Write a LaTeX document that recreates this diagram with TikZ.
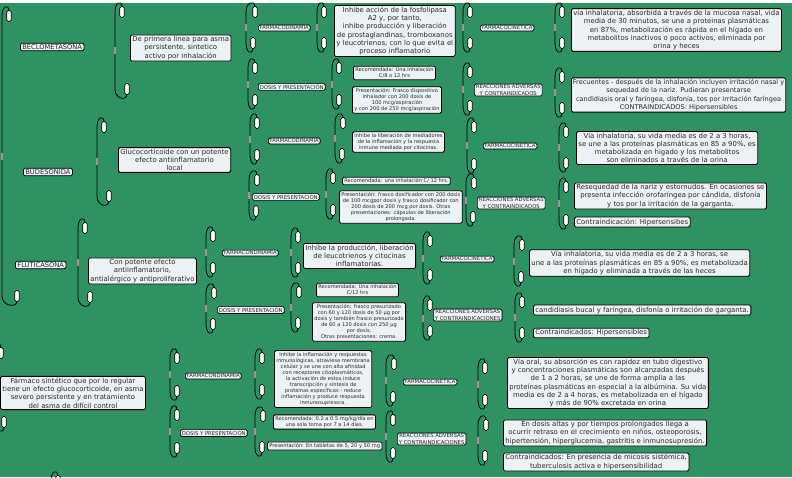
\documentclass[tikz,border=0pt]{standalone}
\usepackage{fontspec}
\setmainfont{DejaVu Sans}
\usetikzlibrary{positioning, calc}
\definecolor{mapgreen}{RGB}{46,146,99}
\definecolor{boxfill}{RGB}{237,242,245}
\definecolor{inkgray}{RGB}{40,40,40}
\definecolor{tickpink}{RGB}{176,140,152}

\begin{document}
\begin{tikzpicture}[
        x=1pt, y=-1pt,
        box/.style={rectangle, draw=black, line width=0.8pt, fill=boxfill, rounded corners=1.5pt, align=center, text=inkgray, inner xsep=2pt, inner ysep=1.5pt, anchor=west},
        drug/.style={box, font=\fontsize{6.7}{7.6}\selectfont, inner ysep=1.2pt},
        info/.style={box, font=\fontsize{6.9}{8.2}\selectfont},
        note/.style={box, font=\fontsize{5.1}{6.1}\selectfont},
        topic/.style={box, font=\fontsize{5.3}{6.2}\selectfont, inner xsep=1.5pt, inner ysep=0.9pt, line width=0.7pt},
        pill/.style={rectangle, draw=black, fill=white, line width=0.6pt, rounded corners=1.8pt, minimum width=4.5pt, minimum height=11pt, inner sep=0pt},
        curl/.style={draw=black, line width=0.8pt},
        midtick/.style={rectangle, fill=tickpink, minimum width=1.3pt, minimum height=7pt, inner sep=0pt}
    ]
        \fill[white] (0,0) rectangle (792,477);
        \fill[mapgreen] (0,3) rectangle (792,477);
        \useasboundingbox (0,0) rectangle (792,477);

        \foreach \n/\xa/\ya/\xb/\yb in {
            rootbr/9/16/17/296, rootbbr/1/353/4/422,
            bdescbr/122/12/127/89, udescbr/104/127/109/196, fdescbr/85/228/90/297,
            bfdbr/255/12/253/43, bdpbr/255/68/255/100, ufdbr/257/123/257/155, udpbr/257/180/256/211,
            ffdbr/213/236/213/268, fdpbr/214/293/213/324, pfdbr/177/358/177/391, pdpbr/177/415/177/448,
            bfdtbr/324/12/324/43, bdptbr/339/68/339/100, ufdtbr/343/123/342/154, udptbr/333/178/333/210,
            ffdtbr/298/237/298/268, fdptbr/299/292/298/323, pfdtbr/262/358/262/390, pdptbr/263/416/262/447,
            bfcbr/470/12/470/43, brabr/470/72/470/106, ufcbr/474/127/474/164, urabr/474/183/473/217,
            ffcbr/430/241/430/275, frabr/430/305/430/331, pfcbr/394/364/393/397, prabr/393/420/393/453,
            bfctbr/562/12/562/43, bratbr/562/77/562/108, ufctbr/566/132/566/163, uratbr/566/187/566/220,
            ffctbr/522/245/521/277, fratbr/522/302/522/333, pfctbr/485/368/485/400, pratbr/486/425/485/456}
        {
            \pgfmathsetmacro\xl{min(\xa,\xb)-7}
            \node[pill] (\n-t) at (\xa,\ya) {};
            \node[pill] (\n-b) at (\xb,\yb) {};
            \draw[curl] (\n-t.north) .. controls (\xa-1,\ya-12) and (\xl,\ya-10) .. (\xl,\ya)
                -- node[midtick] (\n-m) {} (\xl,\yb)
                .. controls (\xl,\yb+10) and (\xb-1,\yb+12) .. (\n-b.south);
        }
        \node[pill] (pdescbr-t) at (58,481) {};
        \draw[curl] (pdescbr-t.north) .. controls (57,469) and (51,471) .. (51,481);

        \node[drug] (beclo) at (20,47) {BECLOMETASONA};
        \node[drug] (bude) at (23,172) {BUDESONIDA};
        \node[drug] (fluti) at (15,265) {FLUTICASONA};

        \node[info] (bdesc) at (130,48) {De primera linea para asma\\persistente, sintetico\\activo por inhalación};
        \node[info] (udesc) at (118,160) {Glucocorticoide con un potente\\efecto antiinflamatorio\\local};
        \node[info] (fdesc) at (88,271) {Con potente efecto\\antiinflamatorio,\\antialérgico y antiproliferativo};
        \node[info] (pdesc) at (0,393) {Fármaco sintético que por lo regular\\tiene un efecto glucocorticoide, en asma\\severo persistente y en tratamiento\\del asma de difícil control};

        \node[topic] (bfd) at (258,28) {FARMACODINAMIA};
        \node[topic] (bdp) at (258,87) {DOSIS Y PRESENTACIÓN};
        \node[topic] (bfc) at (480,28) {FARMACOCINETICA};
        \node[topic] (bra) at (474,90) {REACCIONES ADVERSAS\\Y CONTRAINDICADOS};
        \node[topic] (ufd) at (268,141) {FARMACODINAMIA};
        \node[topic] (udp) at (252,197) {DOSIS Y PRESENTACIÓN};
        \node[topic] (ufc) at (483,146) {FARMACOCINETICA};
        \node[topic] (ura) at (477,203) {REACCIONES ADVERSAS\\Y CONTRAINDICADOS};
        \node[topic] (ffd) at (222,253) {FARMACONDINAMIA};
        \node[topic] (fdp) at (217,310) {DOSIS Y PRESENTACIÓN};
        \node[topic] (ffc) at (440,259) {FARMACOCINETICA};
        \node[topic] (fra) at (433,315) {REACCIONES ADVERSAS\\Y CONTRAINDICACIONES};
        \node[topic] (pfd) at (185,376) {FARMACONDINAMIA};
        \node[topic] (pdp) at (180,433) {DOSIS Y PRESENTACIÓN};
        \node[topic] (pfc) at (403,382) {FARMACOCINETICA};
        \node[topic] (pra) at (397,439) {REACCIONES ADVERSAS\\Y CONTRAINDICACIONES};

        \node[info] (bfdt) at (334,31) {Inhibe acción de la fosfolipasa\\A2 y, por tanto,\\inhibe producción y liberación\\de prostaglandinas, tromboxanos\\y leucotrienos, con lo que evita el\\proceso inflamatorio};
        \node[note] (bdpr) at (353,73) {Recomendada: Una inhalación\\C/8 o 12 hrs};
        \node[note] (bdpp) at (352,100) {Presentación: Frasco dispositivo\\inhalador con 200 dosis de\\100 mcg/aspiración\\y con 200 de 250 mcg/aspiración};
        \node[info] (bfct) at (571,30) {vía inhalatoria, absorbida a través de la mucosa nasal, vida\\media de 30 minutos, se une a proteinas plasmáticas\\en 87\%, metabolización es rápida en el hígado en\\metabolitos inactivos o poco activos, eliminada por\\orina y heces};
        \node[info, font=\fontsize{6.6}{8.2}\selectfont, inner xsep=1.5pt] (brat) at (571,95) {Frecuentes - después de la inhalación incluyen irritación nasal y\\sequedad de la nariz. Pudieran presentarse\\candidiasis oral y faríngea, disfonía, tos por irritación faríngea\\CONTRAINDICADOS: Hipersensibles};

        \node[note] (ufdt) at (352,142) {Inhibe la liberación de mediadores\\de la inflamación y la respuesta\\inmune mediada por citocinas.};
        \node[note] (udpr) at (342,181) {Recomendada: una inhalación C/ 12 hrs.};
        \node[note] (udpp) at (339,207) {Presentación: frasco dosificador con 200 dosis\\de 100 mcgpor dosis y frasco dosificador con\\200 dosis de 200 mcg por dosis. Otras\\presentaciones: cápsulas de liberación\\prolongada.};
        \node[info] (ufct) at (576,148) {Via inhalatoria, su vida media es de 2 a 3 horas,\\se une a las proteínas plasmáticas en 85 a 90\%, es\\metabolizada en higado y los metabolitos\\son eliminados a través de la orina};
        \node[info] (urat) at (574,196) {Resequedad de la nariz y estornudos. En ocasiones se\\presenta infección orofaríngea por cándida, disfonía\\y tos por la irritación de la garganta.};
        \node[info] (urac) at (574,222) {Contraindicación: Hipersensibes};

        \node[info] (ffdt) at (303,256) {Inhibe la producción, liberación\\de leucotrienos y citocinas\\inflamatorias.};
        \node[note] (fdpr) at (316,290) {Recomendada: Una inhalación\\C/12 hrs};
        \node[note] (fdpp) at (312,322) {Presentación:  frasco presurizado\\con 60 y 120 dosis de 50 µg por\\dosis y también frasco presurizado\\de 60 a 120 dosis con 250 µg\\por dosis.\\Otras presentaciones: crema.};
        \node[info] (ffct) at (529,263) {Vía inhalatoria, su vida media es de 2 a 3 horas, se\\une a las proteínas plasmáticas en 85 a 90\%, es metabolizada\\en hígado y eliminada a través de las heces};
        \node[info] (frat) at (533,310) {candidiasis bucal y faríngea, disfonía o irritación de garganta.};
        \node[info] (frac) at (533,333) {Contraindicados: Hipersensibles};

        \node[note] (pfdt) at (274,379) {Inhibe la inflamación y respuestas\\inmunológicas, atraviesa membrana\\celular y se une con alta afinidad\\con receptores citoplasmáticos,\\la activación de estos induce\\transcripción y síntesis de\\proteínas específicas - reduce\\inflamación y produce respuesta\\inmunosupresora.};
        \node[note] (pdpr) at (273,422) {Recomendada: 0.2 a 0.5 mg/kg/día en\\una sola toma por 7 a 14 días.};
        \node[note] (pdpp) at (267,446) {Presentación: En tabletas de 5, 20 y 50 mg};
        \node[info] (pfct) at (507,383) {Vía oral, su absorción es con rapidez en tubo digestivo\\y concentraciones plasmáticas son alcanzadas después\\de 1 a 2 horas, se une de forma amplia a las\\proteínas plasmáticas en especial a la albúmina. Su vida\\media es de 2 a 4 horas, es metabolizada en el hígado\\y más de 90\% excretada en orina};
        \node[info] (prat) at (503,433) {En dosis altas y por tiempos prolongados llega a\\ocurrir retraso en el crecimiento en niños, osteoporosis,\\hipertensión, hiperglucemia, gastritis e inmunosupresión.};
        \node[info] (prac) at (503,462) {Contraindicados: En presencia de micosis sistémica,\\tuberculosis activa e hipersensibilidad};

    \end{tikzpicture}
\end{document}
